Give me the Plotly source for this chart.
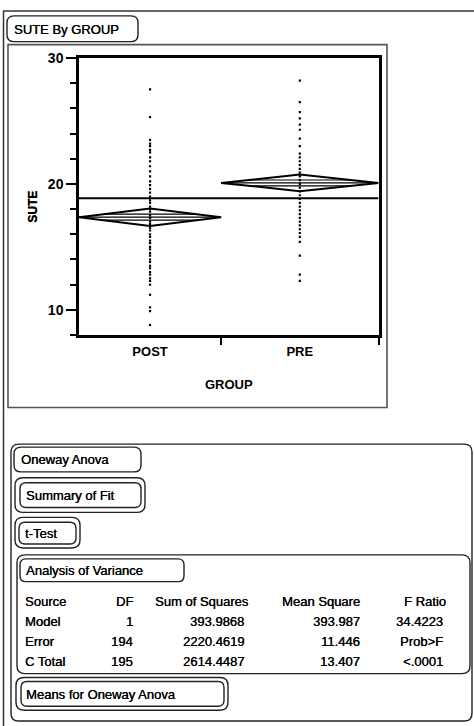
import plotly.graph_objects as go
import math

W, H = 474, 726

# ---------------- data ----------------
groups = ["POST", "PRE"]
group_n = [93, 103]
group_means = [17.36, 20.08]
grand_mean = 18.86
mse = 11.446
t_crit = 1.972

post_values = [27.5, 25.3, 23.5, 23.2, 23.0, 22.7, 22.5, 22.1, 21.8, 21.4, 21.0,
               20.6, 20.2, 19.9, 19.6, 19.3, 19.0, 18.7, 18.5, 18.2, 18.0, 17.8,
               17.5, 17.3, 17.0, 16.8, 16.5, 16.3, 16.0, 15.8, 15.5, 15.3, 15.0,
               14.8, 14.5, 14.3, 14.0, 13.8, 13.5, 13.3, 13.0, 12.8, 12.5, 12.3,
               12.0, 11.2, 10.2, 9.9, 8.8]
pre_values = [28.2, 26.5, 25.7, 25.2, 24.7, 24.3, 23.6, 23.0, 22.4, 22.1, 21.8,
              21.5, 21.2, 20.9, 20.6, 20.3, 20.0, 19.7, 19.4, 19.1, 18.8, 18.5,
              18.2, 17.9, 17.6, 17.3, 17.0, 16.7, 16.4, 16.1, 15.8, 15.4, 14.3,
              12.8, 12.3]

y_ticks = [10, 20, 30]

anova_header = ["Source", "DF", "Sum of Squares", "Mean Square", "F Ratio"]
anova_source = ["Model", "Error", "C Total"]
anova_df = ["1", "194", "195"]
anova_ss = ["393.9868", "2220.4619", "2614.4487"]
anova_ms = ["393.987", "11.446", "13.407"]
anova_f = ["34.4223", "Prob>F", "<.0001"]

# ---------------- helpers ----------------
FONT = "Liberation Sans, Arial, sans-serif"
SHADOW = "0.35px 0px 0px black"


def px(x):
    return x / W


def py(y):
    return 1 - y / H


def rrect(x0, y0, x1, y1, r, width=1.4, color="#222"):
    p = (f"M {px(x0 + r)},{py(y0)} L {px(x1 - r)},{py(y0)} "
         f"Q {px(x1)},{py(y0)} {px(x1)},{py(y0 + r)} "
         f"L {px(x1)},{py(y1 - r)} Q {px(x1)},{py(y1)} {px(x1 - r)},{py(y1)} "
         f"L {px(x0 + r)},{py(y1)} Q {px(x0)},{py(y1)} {px(x0)},{py(y1 - r)} "
         f"L {px(x0)},{py(y0 + r)} Q {px(x0)},{py(y0)} {px(x0 + r)},{py(y0)} Z")
    return dict(type="path", path=p, xref="paper", yref="paper",
                line=dict(color=color, width=width), layer="above")


def txt(x, y, s, anchor="left", size=13, weight="normal", angle=0):
    return dict(x=px(x), y=py(y), xref="paper", yref="paper", text=s, textangle=angle,
                showarrow=False, xanchor=anchor, yanchor="middle",
                font=dict(family=FONT, size=size, color="black", weight=weight, shadow=SHADOW))


fig = go.Figure()

# group extents along x proportional to n
N = sum(group_n)
edges = [0]
for n in group_n:
    edges.append(edges[-1] + n)
centers = [(edges[i] + edges[i + 1]) / 2 for i in range(len(groups))]

# points
for i, vals in enumerate([post_values, pre_values]):
    fig.add_trace(go.Scatter(x=[centers[i]] * len(vals), y=vals, mode="markers",
                             marker=dict(symbol="square", size=2.2, color="black"),
                             showlegend=False, hoverinfo="skip"))

# grand mean line
fig.add_trace(go.Scatter(x=[0, N], y=[grand_mean, grand_mean], mode="lines",
                         line=dict(color="black", width=2.2), showlegend=False, hoverinfo="skip"))

# means diamonds
for i in range(len(groups)):
    m = group_means[i]
    h = t_crit * math.sqrt(mse / group_n[i])
    x0, x1, xc = edges[i], edges[i + 1], centers[i]
    hw = (x1 - x0) / 2
    fig.add_trace(go.Scatter(x=[x0, xc, x1, xc, x0], y=[m, m + h, m, m - h, m], mode="lines",
                             line=dict(color="black", width=2), showlegend=False, hoverinfo="skip"))
    fig.add_trace(go.Scatter(x=[x0, x1], y=[m, m], mode="lines",
                             line=dict(color="black", width=1.4), showlegend=False, hoverinfo="skip"))
    f = 0.35
    for s in (1, -1):
        fig.add_trace(go.Scatter(x=[xc - (1 - f) * hw, xc + (1 - f) * hw], y=[m + s * f * h] * 2,
                                 mode="lines", line=dict(color="black", width=1.2),
                                 showlegend=False, hoverinfo="skip"))

fig.update_layout(
    width=W, height=H, margin=dict(l=0, r=0, t=0, b=0),
    paper_bgcolor="white", plot_bgcolor="white",
    font=dict(family=FONT, color="black"),
    xaxis=dict(domain=[px(79), px(378.5)], range=[0, N], showgrid=False, zeroline=False,
               showline=True, linewidth=2.5, linecolor="black", mirror=True,
               tickvals=centers, ticktext=groups, ticks="", ticklabelstandoff=3,
               tickfont=dict(size=13, family=FONT, color="black", weight="bold"),
               minor=dict(tickvals=[edges[1], edges[2]], ticks="outside", ticklen=7,
                          tickwidth=2, tickcolor="black"),
               title=dict(text="GROUP", font=dict(size=13, family=FONT, weight="bold"), standoff=22)),
    yaxis=dict(domain=[py(330.7), py(50.5)], range=[8, 30], showgrid=False, zeroline=False,
               showline=True, linewidth=2.5, linecolor="black", mirror=True,
               tickvals=y_ticks, ticks="outside", ticklen=10, tickwidth=2, tickcolor="black",
               tickfont=dict(size=14, family=FONT, color="black", weight="bold"),
               minor=dict(dtick=2, ticks="outside", ticklen=6, tickwidth=2, tickcolor="black")),
)

shapes = []
# outer report frame
shapes.append(dict(type="line", xref="paper", yref="paper", x0=px(3), x1=px(474), y0=py(3), y1=py(3),
                   line=dict(color="#333", width=1.5)))
shapes.append(dict(type="line", xref="paper", yref="paper", x0=px(3.5), x1=px(3.5), y0=py(3), y1=py(726),
                   line=dict(color="#333", width=1.5)))
# title box
shapes.append(rrect(7, 8, 138, 34, 7))
# plot frame
shapes.append(dict(type="rect", xref="paper", yref="paper", x0=px(8), x1=px(387), y0=py(37), y1=py(404),
                   line=dict(color="#555", width=1.6)))
# lower report boxes
shapes.append(rrect(11, 441, 472, 721, 8))
shapes.append(rrect(14, 444, 141, 469, 7))
shapes.append(rrect(15, 475, 145, 510, 8))
shapes.append(rrect(20, 480, 141, 505, 6))
shapes.append(rrect(15, 515, 80, 546, 8))
shapes.append(rrect(19, 520, 76, 542, 6))
shapes.append(rrect(17, 553, 470, 673, 8))
shapes.append(rrect(20, 557, 184, 580, 6))
shapes.append(rrect(16, 677, 228, 710, 8))
shapes.append(rrect(21, 681, 224, 706, 6))
fig.update_layout(shapes=shapes)

ann = [
    txt(12, 22, "SUTE By GROUP"),
    txt(33, 201, "SUTE", anchor="center", size=12, weight="bold", angle=-90),
    txt(19, 457, "Oneway Anova"),
    txt(24, 493, "Summary of Fit"),
    txt(23, 531, "t-Test"),
    txt(24, 569, "Analysis of Variance"),
    txt(24, 694, "Means for Oneway Anova"),
]
# anova table
row_y = [620, 641, 661]
ann.append(txt(23, 600, anova_header[0]))
ann.append(txt(135, 600, anova_header[1], anchor="right"))
ann.append(txt(153, 600, anova_header[2]))
ann.append(txt(280, 600, anova_header[3]))
ann.append(txt(448, 600, anova_header[4], anchor="right"))
for i in range(3):
    ann.append(txt(23, row_y[i], anova_source[i]))
    ann.append(txt(135, row_y[i], anova_df[i], anchor="right"))
    ann.append(txt(246, row_y[i], anova_ss[i], anchor="right"))
    ann.append(txt(362, row_y[i], anova_ms[i], anchor="right"))
    ann.append(txt(445, row_y[i], anova_f[i], anchor="right"))
fig.update_layout(annotations=ann)

post = ("document.documentElement.style.margin='0';document.body.style.margin='0';"
        "document.body.style.padding='0';document.body.style.overflow='hidden';"
        "var d=document.getElementById('{plot_id}');d.style.position='absolute';"
        "d.style.left='0px';d.style.top='0px';")
fig.write_html("out.html", post_script=post, config={"displayModeBar": False})
